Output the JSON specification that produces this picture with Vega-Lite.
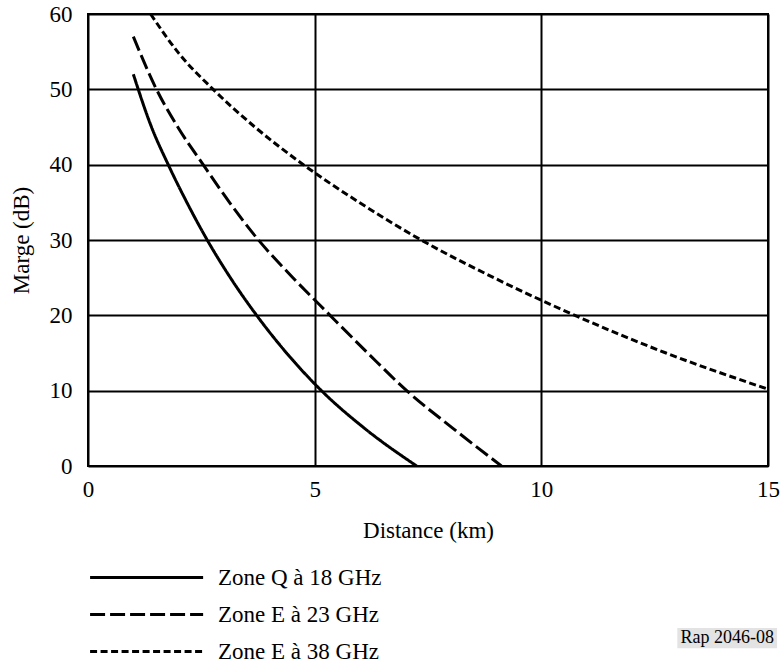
{
  "$schema": "https://vega.github.io/schema/vega-lite/v6.json",
  "autosize": {"type": "none"},
  "padding": {"left": 88, "top": 14, "right": 16, "bottom": 200},
  "width": 680,
  "height": 452,
  "background": "white",
  "config": {
    "font": "'Liberation Serif', 'Times New Roman', 'DejaVu Serif', serif",
    "view": {"stroke": "black", "strokeWidth": 2},
    "axis": {
      "domain": false,
      "ticks": false,
      "tickSize": 0,
      "grid": true,
      "gridColor": "black",
      "gridWidth": 2,
      "gridOpacity": 1,
      "labelFlush": false,
      "labelFont": "'Liberation Serif', 'Times New Roman', 'DejaVu Serif', serif",
      "labelFontSize": 23,
      "labelColor": "black",
      "titleFont": "'Liberation Serif', 'Times New Roman', 'DejaVu Serif', serif",
      "titleFontSize": 23,
      "titleFontWeight": "normal",
      "titleColor": "black"
    },
    "legend": {
      "labelFont": "'Liberation Serif', 'Times New Roman', 'DejaVu Serif', serif",
      "labelFontSize": 23,
      "labelColor": "black",
      "labelLimit": 400
    }
  },
  "datasets": {
    "curves": [
      {"zone": "Zone Q à 18 GHz", "d": 1.0, "m": 52.0},
      {"zone": "Zone Q à 18 GHz", "d": 1.4, "m": 45.0},
      {"zone": "Zone Q à 18 GHz", "d": 1.77, "m": 40.0},
      {"zone": "Zone Q à 18 GHz", "d": 2.18, "m": 35.0},
      {"zone": "Zone Q à 18 GHz", "d": 2.63, "m": 30.0},
      {"zone": "Zone Q à 18 GHz", "d": 3.14, "m": 25.0},
      {"zone": "Zone Q à 18 GHz", "d": 3.72, "m": 20.0},
      {"zone": "Zone Q à 18 GHz", "d": 4.38, "m": 15.0},
      {"zone": "Zone Q à 18 GHz", "d": 5.15, "m": 10.0},
      {"zone": "Zone Q à 18 GHz", "d": 6.1, "m": 5.0},
      {"zone": "Zone Q à 18 GHz", "d": 7.25, "m": 0.0},
      {"zone": "Zone E à 23 GHz", "d": 1.0, "m": 57.0},
      {"zone": "Zone E à 23 GHz", "d": 1.51, "m": 50.0},
      {"zone": "Zone E à 23 GHz", "d": 2.0, "m": 44.8},
      {"zone": "Zone E à 23 GHz", "d": 2.54, "m": 40.0},
      {"zone": "Zone E à 23 GHz", "d": 3.12, "m": 35.0},
      {"zone": "Zone E à 23 GHz", "d": 3.76, "m": 30.0},
      {"zone": "Zone E à 23 GHz", "d": 4.52, "m": 25.0},
      {"zone": "Zone E à 23 GHz", "d": 5.34, "m": 20.0},
      {"zone": "Zone E à 23 GHz", "d": 6.17, "m": 15.0},
      {"zone": "Zone E à 23 GHz", "d": 7.03, "m": 10.0},
      {"zone": "Zone E à 23 GHz", "d": 8.05, "m": 5.0},
      {"zone": "Zone E à 23 GHz", "d": 9.12, "m": 0.0},
      {"zone": "Zone E à 38 GHz", "d": 1.38, "m": 60.0},
      {"zone": "Zone E à 38 GHz", "d": 2.0, "m": 54.8},
      {"zone": "Zone E à 38 GHz", "d": 2.76, "m": 50.0},
      {"zone": "Zone E à 38 GHz", "d": 3.68, "m": 45.0},
      {"zone": "Zone E à 38 GHz", "d": 4.75, "m": 40.0},
      {"zone": "Zone E à 38 GHz", "d": 5.98, "m": 35.0},
      {"zone": "Zone E à 38 GHz", "d": 7.35, "m": 30.0},
      {"zone": "Zone E à 38 GHz", "d": 8.95, "m": 25.0},
      {"zone": "Zone E à 38 GHz", "d": 10.74, "m": 20.0},
      {"zone": "Zone E à 38 GHz", "d": 12.75, "m": 15.0},
      {"zone": "Zone E à 38 GHz", "d": 15.0, "m": 10.2}
    ],
    "note": [{"label": "Rap 2046-08"}]
  },
  "layer": [
    {
      "data": {"name": "curves"},
      "mark": {"type": "line", "color": "black", "strokeWidth": 3, "interpolate": "monotone", "clip": true},
      "encoding": {
        "x": {
          "field": "d", "type": "quantitative",
          "scale": {"domain": [0, 15], "nice": false, "zero": false},
          "axis": {"values": [0, 5, 10, 15], "title": "Distance (km)", "labelPadding": 12, "titlePadding": 18}
        },
        "y": {
          "field": "m", "type": "quantitative",
          "scale": {"domain": [0, 60], "nice": false},
          "axis": {"values": [0, 10, 20, 30, 40, 50, 60], "title": "Marge (dB)", "labelPadding": 16, "titlePadding": 16}
        },
        "strokeDash": {
          "field": "zone", "type": "nominal",
          "scale": {
            "domain": ["Zone Q à 18 GHz", "Zone E à 23 GHz", "Zone E à 38 GHz"],
            "range": [[1, 0], [15, 5], [7, 3.5]]
          },
          "legend": {
            "title": null,
            "orient": "none",
            "legendX": 0,
            "legendY": 552,
            "direction": "vertical",
            "symbolType": "M-1,0H11",
            "symbolSize": 355,
            "symbolStrokeWidth": 3,
            "symbolStrokeColor": "black",
            "symbolFillColor": "transparent",
            "labelOffset": 107,
            "labelLimit": 400,
            "rowPadding": 13
          }
        }
      }
    },
    {
      "data": {"name": "note"},
      "mark": {"type": "rect", "color": "#e3e3e3"},
      "encoding": {
        "x": {"datum": 13.0, "type": "quantitative"},
        "x2": {"datum": 15.2},
        "y": {"datum": -21.5, "type": "quantitative"},
        "y2": {"datum": -24.2}
      }
    },
    {
      "data": {"name": "note"},
      "mark": {"type": "text", "color": "black", "fontSize": 18, "font": "'Liberation Serif', 'Times New Roman', 'DejaVu Serif', serif", "align": "center", "baseline": "middle"},
      "encoding": {
        "x": {"datum": 14.1, "type": "quantitative"},
        "y": {"datum": -22.85, "type": "quantitative"},
        "text": {"field": "label"}
      }
    }
  ]
}
